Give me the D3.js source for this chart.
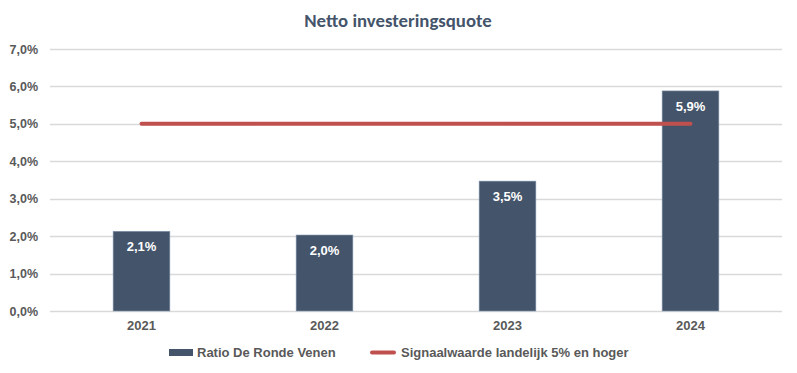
<!DOCTYPE html>
<html>
<head>
<meta charset="utf-8">
<script src="https://cdn.jsdelivr.net/npm/d3@7"></script>
<style>
  body { margin: 0; background: #fff; }
  text { font-family: "Liberation Sans", Arial, sans-serif; }
</style>
</head>
<body>
<svg id="chart" width="797" height="373"></svg>
<script>
// chart data
var years = ['2021', '2022', '2023', '2024'];
var ratio = [2.13, 2.03, 3.47, 5.88];
var signaal = [5, 5, 5, 5];
var yTicks = [0, 1, 2, 3, 4, 5, 6, 7];

var svg = d3.select('#chart');
var margin = { left: 50, right: 15, top: 49, bottom: 62 };
var W = 797, H = 373;

var x = d3.scaleBand().domain(years)
    .range([margin.left, W - margin.right]).paddingInner(0.69).paddingOuter(0.345);
var y = d3.scaleLinear().domain([0, 7]).range([H - margin.bottom, margin.top]);

var fmt = function (v) { return v.toFixed(1).replace('.', ',') + '%'; };

// title
svg.append('text')
    .attr('x', 398).attr('y', 27)
    .attr('text-anchor', 'middle')
    .style('font-family', 'Calibri, Carlito, Lato, sans-serif')
    .style('font-size', '18.8px').style('font-weight', 'bold')
    .attr('fill', '#44546A')
    .text('Netto investeringsquote');

// gridlines + y labels
var yAxis = svg.append('g');
yAxis.selectAll('line').data(yTicks).enter().append('line')
    .attr('x1', margin.left).attr('x2', W - margin.right)
    .attr('y1', function (d) { return Math.round(y(d)) + 0.5; })
    .attr('y2', function (d) { return Math.round(y(d)) + 0.5; })
    .attr('stroke', '#D9D9D9').attr('stroke-width', 1.5);
yAxis.selectAll('text').data(yTicks).enter().append('text')
    .attr('x', 38).attr('y', function (d) { return y(d) + 4.5; })
    .attr('text-anchor', 'end')
    .style('font-size', '12.5px').style('font-weight', 'bold')
    .attr('fill', '#595959')
    .text(fmt);

// bars
var bars = svg.append('g');
bars.selectAll('rect').data(ratio).enter().append('rect')
    .attr('x', function (d, i) { return x(years[i]); })
    .attr('y', function (d) { return y(d); })
    .attr('width', x.bandwidth())
    .attr('height', function (d) { return y(0) - y(d); })
    .attr('fill', '#44546A')
    .attr('stroke', '#8497B0').attr('stroke-width', 0.6);
bars.selectAll('text').data(ratio).enter().append('text')
    .attr('x', function (d, i) { return x(years[i]) + x.bandwidth() / 2; })
    .attr('y', function (d) { return y(d) + 20; })
    .attr('text-anchor', 'middle')
    .style('font-size', '13px').style('font-weight', 'bold')
    .attr('fill', '#fff')
    .text(fmt);

// x labels
svg.append('g').selectAll('text').data(years).enter().append('text')
    .attr('x', function (d) { return x(d) + x.bandwidth() / 2; })
    .attr('y', 330)
    .attr('text-anchor', 'middle')
    .style('font-size', '13px').style('font-weight', 'bold')
    .attr('fill', '#595959')
    .text(function (d) { return d; });

// signal line
var line = d3.line()
    .x(function (d, i) { return x(years[i]) + x.bandwidth() / 2; })
    .y(function (d) { return y(d); });
svg.append('path').datum(signaal)
    .attr('d', line)
    .attr('fill', 'none')
    .attr('stroke', '#C0504D').attr('stroke-width', 4)
    .attr('stroke-linecap', 'round');

// legend
var lg = svg.append('g');
lg.append('rect').attr('x', 169).attr('y', 349).attr('width', 24).attr('height', 7)
    .attr('fill', '#44546A');
lg.append('text').attr('x', 197).attr('y', 357)
    .style('font-size', '13px').style('font-weight', 'bold').attr('fill', '#595959')
    .text('Ratio De Ronde Venen');
lg.append('line').attr('x1', 372).attr('x2', 394).attr('y1', 352.5).attr('y2', 352.5)
    .attr('stroke', '#C0504D').attr('stroke-width', 4).attr('stroke-linecap', 'round');
lg.append('text').attr('x', 401).attr('y', 357)
    .style('font-size', '13px').style('font-weight', 'bold').attr('fill', '#595959')
    .text('Signaalwaarde landelijk 5% en hoger');
</script>
</body>
</html>
